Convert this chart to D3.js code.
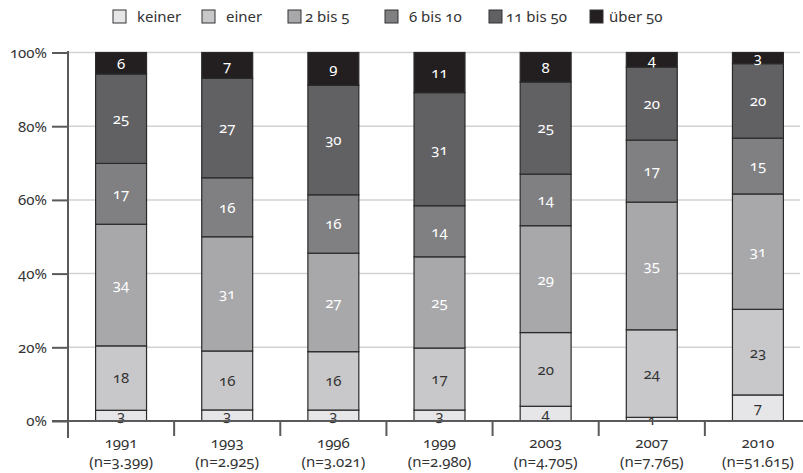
<!DOCTYPE html>
<html><head><meta charset="utf-8">
<script src="https://cdn.jsdelivr.net/npm/d3@7"></script>
<style>
body{margin:0;background:#fff;}
text{font-family:"Noto Sans",sans-serif;font-variant-numeric:oldstyle-nums;font-feature-settings:"onum" 1;}
</style></head>
<body><svg id="c" width="803" height="473"></svg>
<script>
const years = ["1991","1993","1996","1999","2003","2007","2010"];
const nLabels = ["(n=3.399)","(n=2.925)","(n=3.021)","(n=2.980)","(n=4.705)","(n=7.765)","(n=51.615)"];
const seriesNames = ["keiner","einer","2 bis 5","6 bis 10","11 bis 50","über 50"];
const keiner   = [3,3,3,3,4,1,7];
const einer    = [18,16,16,17,20,24,23];
const bis5     = [34,31,27,25,29,35,31];
const bis10    = [17,16,16,14,14,17,15];
const bis50    = [25,27,30,31,25,20,20];
const ueber50  = [6,7,9,11,8,4,3];
const yTicks = [0,0.2,0.4,0.6,0.8,1];
const yTickLabels = ["0%","20%","40%","60%","80%","100%"];

const colors = ["#e6e6e8","#c8c8ca","#a8a8ab","#808083","#616164","#231f20"];
const textColors = ["#333","#333","#fff","#fff","#fff","#fff"];

const seriesArrays = [keiner,einer,bis5,bis10,bis50,ueber50];
const rows = years.map((y,i)=>{const o={year:y}; seriesNames.forEach((s,j)=>o[s]=seriesArrays[j][i]); return o;});
const stack = d3.stack().keys(seriesNames).offset(d3.stackOffsetExpand);
const stacked = stack(rows);

const svg = d3.select("#c");
const x = d3.scaleBand().domain(years).range([68,811]).paddingInner(0.52).paddingOuter(0.26);
const y = d3.scaleLinear().domain([0,1]).range([421,52.5]);

// gridlines
svg.append("g").selectAll("line").data(yTicks.slice(1)).join("line")
  .attr("x1",68).attr("x2",800).attr("y1",d=>y(d)).attr("y2",d=>y(d))
  .attr("stroke","#d2d2d2").attr("stroke-width",1.5);

// y axis
const yAxis = d3.axisLeft(y).tickValues(yTicks).tickFormat((d,i)=>yTickLabels[i]).tickSize(16).tickPadding(5);
const gy = svg.append("g").attr("transform","translate(68,0)").call(yAxis);
gy.select(".domain").remove();
gy.selectAll(".tick line").attr("stroke","#5a5a5c").attr("stroke-width",2);
gy.selectAll(".tick text").attr("font-size",15).attr("fill","#333").attr("font-family","Noto Sans").attr("dy","0.32em");
svg.append("line").attr("x1",68).attr("x2",68).attr("y1",51).attr("y2",438).attr("stroke","#5a5a5c").attr("stroke-width",2);

// bars
const layers = svg.append("g").selectAll("g").data(stacked).join("g")
  .attr("fill",(d,i)=>colors[i]);
layers.selectAll("rect").data(d=>d).join("rect")
  .attr("x",d=>x(d.data.year)).attr("width",x.bandwidth())
  .attr("y",d=>y(d[1])).attr("height",d=>y(d[0])-y(d[1]))
  .attr("stroke","#2a2a2a").attr("stroke-width",1.2);

// value labels
stacked.forEach((layer,i)=>{
  svg.append("g").selectAll("text").data(layer).join("text")
    .attr("x",d=>x(d.data.year)+x.bandwidth()/2)
    .attr("y",d=>(y(d[0])+y(d[1]))/2)
    .attr("dy","0.36em")
    .attr("text-anchor","middle").attr("font-size",15)
    .attr("fill",textColors[i])
    .text(d=>d.data[layer.key]);
});

// x axis
svg.append("line").attr("x1",52).attr("x2",803).attr("y1",421).attr("y2",421).attr("stroke","#5a5a5c").attr("stroke-width",2);
const step = x.step();
svg.append("g").selectAll("line").data(years.slice(1)).join("line")
  .attr("x1",d=>x(d)-x.paddingOuter()*step).attr("x2",d=>x(d)-x.paddingOuter()*step)
  .attr("y1",421).attr("y2",436).attr("stroke","#5a5a5c").attr("stroke-width",2);
const xl = svg.append("g").selectAll("text").data(years).join("text")
  .attr("x",d=>x(d)+x.bandwidth()/2).attr("y",448)
  .attr("text-anchor","middle").attr("font-size",15).attr("fill","#333");
xl.append("tspan").attr("x",d=>x(d)+x.bandwidth()/2).text(d=>d);
xl.append("tspan").attr("x",d=>x(d)+x.bandwidth()/2).attr("dy",19).text((d,i)=>nLabels[i]);

// legend
const legendX = [113,202,288,385,489,590];
const lg = svg.append("g").selectAll("g").data(seriesNames).join("g")
  .attr("transform",(d,i)=>`translate(${legendX[i]},10)`);
lg.append("rect").attr("width",13).attr("height",13).attr("fill",(d,i)=>colors[i]).attr("stroke","#333").attr("stroke-width",1);
lg.append("text").attr("x",(d,i)=>[24,24,17,24,17,19][i]).attr("y",12).attr("font-size",15).attr("fill","#333").text(d=>d);
</script></body></html>
